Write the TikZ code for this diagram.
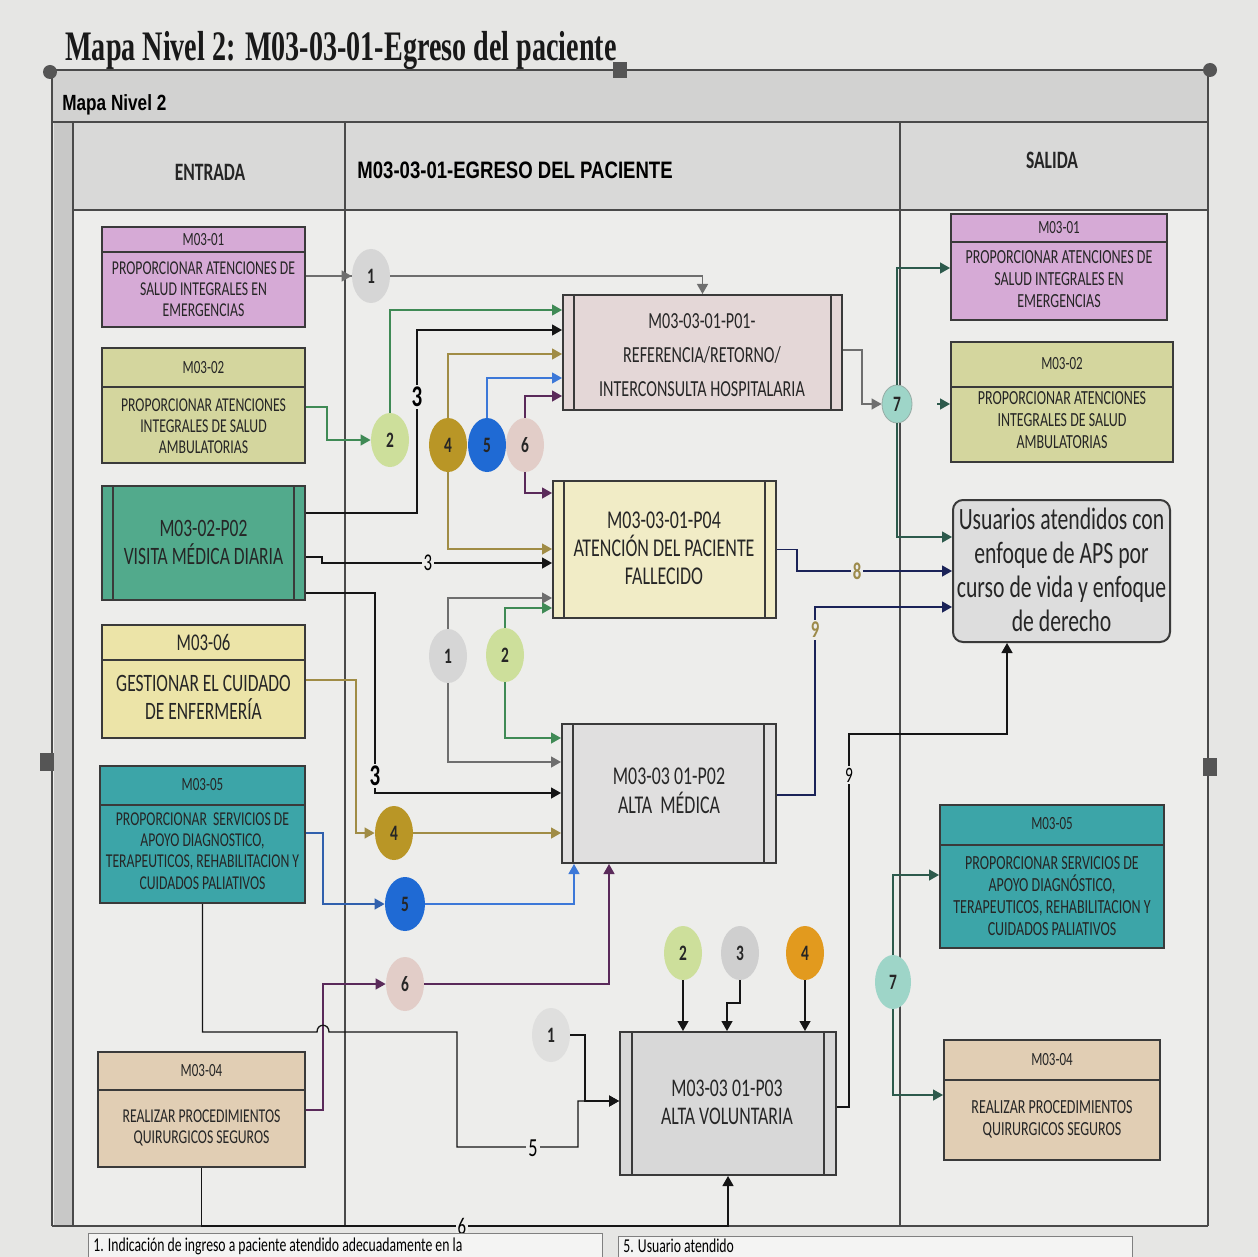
\documentclass[tikz,border=0pt]{standalone}
\usepackage{fontspec}
\usetikzlibrary{arrows.meta,calc,shapes.geometric}

\newfontfamily\bxfont[FakeStretch=0.7]{Carlito}
\newfontfamily\hdfont[FakeStretch=0.78]{Liberation Sans}
\newfontfamily\ttlfont[FakeStretch=0.67]{Liberation Serif}

% surfaces
\definecolor{paper}{HTML}{E6E6E4}
\definecolor{cell}{HTML}{EDEDEB}
\definecolor{band}{HTML}{D2D2D1}
\definecolor{hband}{HTML}{D9D9D8}
\definecolor{strip}{HTML}{C8C8C7}
\definecolor{frameln}{HTML}{4A4A4A}
\definecolor{boxln}{HTML}{3A3A3A}
\definecolor{handle}{HTML}{555555}
% boxes
\definecolor{cPink}{HTML}{D6AAD6}
\definecolor{cOlive}{HTML}{D4D69E}
\definecolor{cTeal}{HTML}{52AA8C}
\definecolor{cCream}{HTML}{ECE4A8}
\definecolor{cCyan}{HTML}{3CA5A8}
\definecolor{cTan}{HTML}{E1CEB4}
\definecolor{pRose}{HTML}{E4D7D7}
\definecolor{pYel}{HTML}{F1ECC6}
\definecolor{pGray}{HTML}{E0DFDF}
\definecolor{pGrayB}{HTML}{D8D8D8}
\definecolor{uGray}{HTML}{DDDDDD}
% bubbles
\definecolor{k1}{HTML}{D6D6D6}
\definecolor{k2}{HTML}{CDDF9B}
\definecolor{k3}{HTML}{CFCFCF}
\definecolor{k4}{HTML}{B99626}
\definecolor{k4b}{HTML}{E29A1E}
\definecolor{k5}{HTML}{1F6AD4}
\definecolor{k6}{HTML}{E2CDC8}
\definecolor{k7}{HTML}{9ED5C8}
% connectors
\definecolor{aGray}{HTML}{6E6E6E}
\definecolor{aGreen}{HTML}{3F8A55}
\definecolor{aBlack}{HTML}{151515}
\definecolor{aGold}{HTML}{A08C45}
\definecolor{aBlue}{HTML}{3C78D8}
\definecolor{aPurp}{HTML}{5A2A5A}
\definecolor{aNavy}{HTML}{1B2358}
\definecolor{aDkGreen}{HTML}{2D5A4C}
\definecolor{lblGold}{HTML}{9C8A4A}

\tikzset{
  box/.style={draw=boxln, line width=1pt, inner sep=0pt},
  split/.style={draw=boxln, line width=0.8pt},
  hdtxt/.style={font=\bxfont\fontsize{9.3}{10}\selectfont, text=black!85, inner sep=0pt, align=center},
  bdtxt/.style={font=\bxfont\fontsize{9.8}{10.6}\selectfont, text=black!85, inner sep=0pt, align=center},
  prtxt/.style={font=\bxfont\fontsize{12.6}{14}\selectfont, text=black!85, inner sep=0pt, align=center},
  bubble/.style={ellipse, minimum width=19pt, minimum height=27pt, inner sep=0pt,
    font=\bxfont\bfseries\fontsize{11}{12}\selectfont, text=black!85},
  link/.style={line width=0.65pt, -{Triangle[length=5pt,width=5.5pt]}},
  plain/.style={line width=0.65pt},
  tag/.style={fill=cell, inner sep=1pt, font=\bxfont\fontsize{12}{12}\selectfont},
  grid/.style={draw=frameln, line width=0.9pt},
  note/.style={draw=gray, fill=cell!60!white, line width=0.7pt, anchor=north west, minimum width=257pt, minimum height=20pt},
}

\begin{document}
\begin{tikzpicture}[x=0.5pt,y=-0.5pt]
\useasboundingbox (0,0) rectangle (1258,1257);
\clip (0,0) rectangle (1258,1257);

% ---------- page and table frame ----------
\fill[paper] (0,0) rectangle (1258,1257);
\fill[cell] (52,210) rectangle (1208,1226);
\fill[band] (52,70) rectangle (1208,122);
\fill[hband] (73,122) rectangle (1208,210);
\fill[strip] (54,122) rectangle (73,1226);

\node[anchor=base west, inner sep=0pt, font=\ttlfont\bfseries\fontsize{21}{24}\selectfont, text=black!90]
  (title) at (65,61) {Mapa Nivel 2: M03-03-01-Egreso del paciente};

\draw[grid] (52,70) -- (1208,70);
\draw[grid] (52,122) -- (1208,122);
\draw[grid] (73,210) -- (1208,210);
\draw[grid] (52,70) -- (52,1226);
\draw[grid] (1208,70) -- (1208,1226);
\draw[grid] (73,122) -- (73,1226);
\draw[grid] (345,122) -- (345,1226);
\draw[grid] (900,122) -- (900,1226);
\draw[grid] (52,1226) -- (1208,1226);

\node[anchor=base west, inner sep=0pt, font=\hdfont\bfseries\fontsize{11}{12}\selectfont]
  (mapa) at (62,111) {Mapa Nivel 2};
\node[inner sep=0pt, font=\bxfont\bfseries\fontsize{12.5}{13}\selectfont, text=black!85]
  (entrada) at (210,172) {ENTRADA};
\node[anchor=west, inner sep=0pt, font=\hdfont\bfseries\fontsize{11.9}{13}\selectfont]
  (proceso) at (357,170) {M03-03-01-EGRESO DEL PACIENTE};
\node[inner sep=0pt, font=\bxfont\bfseries\fontsize{12.5}{13}\selectfont, text=black!85]
  (salida) at (1052,160) {SALIDA};

% selection handles
\fill[handle] (50,72) circle[radius=7];
\fill[handle] (1210,70) circle[radius=7];
\fill[handle] (613,62) rectangle (627,78);
\fill[handle] (40,753) rectangle (54,771);
\fill[handle] (1203,758) rectangle (1217,776);

% ---------- inputs (ENTRADA) ----------
\node[box, fill=cPink, minimum width=101.5pt, minimum height=50pt] (L1) at (203.5,277) {};
\draw[split] (L1.west |- 0,252) -- (L1.east |- 0,252);
\node[hdtxt] (L1h) at (203.5,240) {M03-01};
\node[bdtxt] (L1b) at (203.5,289) {PROPORCIONAR ATENCIONES DE\\SALUD INTEGRALES EN\\EMERGENCIAS};

\node[box, fill=cOlive, minimum width=101.5pt, minimum height=57.5pt] (L2) at (203.5,405.5) {};
\draw[split] (L2.west |- 0,387) -- (L2.east |- 0,387);
\node[hdtxt] (L2h) at (203.5,368) {M03-02};
\node[bdtxt] (L2b) at (203.5,426) {PROPORCIONAR ATENCIONES\\INTEGRALES DE SALUD\\AMBULATORIAS};

\node[box, fill=cTeal, minimum width=101.5pt, minimum height=57pt] (L3) at (203.5,543) {};
\draw[split] (L3.north -| 113,0) -- (L3.south -| 113,0);
\draw[split] (L3.north -| 294,0) -- (L3.south -| 294,0);
\node[prtxt, font=\bxfont\fontsize{12.5}{14}\selectfont] (L3t) at (203.5,542) {M03-02-P02\\VISITA MÉDICA DIARIA};

\node[box, fill=cCream, minimum width=101.5pt, minimum height=56.5pt] (L4) at (203.5,681.5) {};
\draw[split] (L4.west |- 0,660) -- (L4.east |- 0,660);
\node[hdtxt, font=\bxfont\fontsize{12}{13}\selectfont] (L4h) at (203.5,642) {M03-06};
\node[prtxt, font=\bxfont\fontsize{12.5}{14}\selectfont] (L4b) at (203.5,697) {GESTIONAR EL CUIDADO\\DE ENFERMERÍA};

\node[box, fill=cCyan, minimum width=102.5pt, minimum height=68.5pt] (L5) at (202.5,834.5) {};
\draw[split] (L5.west |- 0,805) -- (L5.east |- 0,805);
\node[hdtxt] (L5h) at (202.5,785) {M03-05};
\node[bdtxt] (L5b) at (202.5,851) {PROPORCIONAR\ \ SERVICIOS DE\\APOYO DIAGNOSTICO,\\TERAPEUTICOS, REHABILITACION Y\\CUIDADOS PALIATIVOS};

\node[box, fill=cTan, minimum width=103.5pt, minimum height=57.5pt] (L6) at (201.5,1109.5) {};
\draw[split] (L6.west |- 0,1090) -- (L6.east |- 0,1090);
\node[hdtxt] (L6h) at (201.5,1071) {M03-04};
\node[bdtxt] (L6b) at (201.5,1128) {REALIZAR PROCEDIMIENTOS\\QUIRURGICOS SEGUROS};

% ---------- processes ----------
\node[box, fill=pRose, minimum width=139.5pt, minimum height=57.5pt] (P01) at (702.5,352.5) {};
\draw[split] (P01.north -| 574,0) -- (P01.south -| 574,0);
\draw[split] (P01.north -| 831,0) -- (P01.south -| 831,0);
\node[prtxt, font=\bxfont\fontsize{11.5}{17}\selectfont] (P01t) at (702,355) {M03-03-01-P01-\\REFERENCIA/RETORNO/\\INTERCONSULTA HOSPITALARIA};

\node[box, fill=pYel, minimum width=111.5pt, minimum height=68.5pt] (P04) at (664.5,549.5) {};
\draw[split] (P04.north -| 564,0) -- (P04.south -| 564,0);
\draw[split] (P04.north -| 765,0) -- (P04.south -| 765,0);
\node[prtxt, font=\bxfont\fontsize{12.8}{14}\selectfont] (P04t) at (664,548) {M03-03-01-P04\\ATENCIÓN DEL PACIENTE\\FALLECIDO};

\node[box, fill=pGray, minimum width=107pt, minimum height=69.5pt] (P02) at (669,793.5) {};
\draw[split] (P02.north -| 573,0) -- (P02.south -| 573,0);
\draw[split] (P02.north -| 764,0) -- (P02.south -| 764,0);
\node[prtxt, font=\bxfont\fontsize{12.8}{14.5}\selectfont] (P02t) at (669,791) {M03-03 01-P02\\ALTA\ \ MÉDICA};

\node[box, fill=pGrayB, minimum width=108pt, minimum height=71.5pt] (P03) at (728,1103.5) {};
\draw[split] (P03.north -| 632,0) -- (P03.south -| 632,0);
\draw[split] (P03.north -| 824,0) -- (P03.south -| 824,0);
\node[prtxt, font=\bxfont\fontsize{12.7}{14}\selectfont] (P03t) at (727,1102) {M03-03 01-P03\\ALTA VOLUNTARIA};

% ---------- outputs (SALIDA) ----------
\node[box, fill=cPink, minimum width=108pt, minimum height=53pt] (R1) at (1059,267) {};
\draw[split] (R1.west |- 0,242) -- (R1.east |- 0,242);
\node[hdtxt] (R1h) at (1059,228) {M03-01};
\node[bdtxt, font=\bxfont\fontsize{10}{10.8}\selectfont] (R1b) at (1059,279) {PROPORCIONAR ATENCIONES DE\\SALUD INTEGRALES EN\\EMERGENCIAS};

\node[box, fill=cOlive, minimum width=111pt, minimum height=60pt] (R2) at (1062,402) {};
\draw[split] (R2.west |- 0,387) -- (R2.east |- 0,387);
\node[hdtxt] (R2h) at (1062,364) {M03-02};
\node[bdtxt, font=\bxfont\fontsize{10}{10.8}\selectfont] (R2b) at (1062,420) {PROPORCIONAR ATENCIONES\\INTEGRALES DE SALUD\\AMBULATORIAS};

\node[box, fill=uGray, rounded corners=5pt, minimum width=108.5pt, minimum height=71pt] (R3) at (1061.5,571) {};
\node[inner sep=0pt, align=center, font=\bxfont\fontsize{15.5}{17}\selectfont, text=black!85] (R3t) at (1061.5,570)
  {Usuarios atendidos con\\enfoque de APS por\\curso de vida y enfoque\\de derecho};

\node[box, fill=cCyan, minimum width=112pt, minimum height=71.5pt] (R4) at (1052,876.5) {};
\draw[split] (R4.west |- 0,845) -- (R4.east |- 0,845);
\node[hdtxt] (R4h) at (1052,824) {M03-05};
\node[bdtxt, font=\bxfont\fontsize{10}{10.9}\selectfont] (R4b) at (1052,896) {PROPORCIONAR SERVICIOS DE\\APOYO DIAGNÓSTICO,\\TERAPEUTICOS, REHABILITACION Y\\CUIDADOS PALIATIVOS};

\node[box, fill=cTan, minimum width=108pt, minimum height=60pt] (R5) at (1052,1100) {};
\draw[split] (R5.west |- 0,1080) -- (R5.east |- 0,1080);
\node[hdtxt] (R5h) at (1052,1060) {M03-04};
\node[bdtxt, font=\bxfont\fontsize{10}{11}\selectfont] (R5b) at (1052,1119) {REALIZAR PROCEDIMIENTOS\\QUIRURGICOS SEGUROS};

% ---------- numbered bubbles ----------
\node[bubble, fill=k1] (c1a) at (371,276) {1};
\node[bubble, fill=k2] (c2a) at (390,440) {2};
\node[bubble, fill=k4] (c4a) at (448,445) {4};
\node[bubble, fill=k5] (c5a) at (487,445) {5};
\node[bubble, fill=k6] (c6a) at (525,445) {6};
\node[bubble, fill=k7, draw=aDkGreen!50, minimum width=15pt, minimum height=19pt] (c7a) at (897,404) {7};
\node[bubble, fill=k1] (c1b) at (448,656) {1};
\node[bubble, fill=k2] (c2b) at (505,655) {2};
\node[bubble, fill=k4] (c4b) at (394,833) {4};
\node[bubble, fill=k5, minimum width=20pt] (c5b) at (405,904) {5};
\node[bubble, fill=k6] (c6b) at (405,984) {6};
\node[bubble, fill=k1!60!cell] (c1c) at (551,1035) {1};
\node[bubble, fill=k2] (c2c) at (683,953) {2};
\node[bubble, fill=k3] (c3c) at (740,953) {3};
\node[bubble, fill=k4b] (c4c) at (805,953) {4};
\node[bubble, fill=k7, minimum width=18pt] (c7b) at (893,982) {7};

% ---------- connectors into M03-03-01-P01 ----------
\draw[plain, draw=aGray] (L1.east |- c1a.west) -- (c1a.west);
\draw[link, draw=aGray] ([xshift=-6pt]c1a.west) -- (c1a.west);
\draw[link, draw=aGray] (c1a.east) -| (P01.north);
\draw[link, draw=aGreen] (L2.east |- 0,407) -| (327,440) -- (c2a.west);
\draw[link, draw=aGreen] (c2a.north) |- (P01.west |- 0,310);
\draw[link, draw=aBlack] (L3.east |- 0,513) -| (417,330) -- (P01.west |- 0,330);
\draw[link, draw=aGold] (c4a.north) |- (P01.west |- 0,354);
\draw[link, draw=aBlue] (c5a.north) |- (P01.west |- 0,378);
\draw[link, draw=aPurp] (c6a.north) |- (P01.west |- 0,396);

% ---------- connectors into M03-03-01-P04 ----------
\draw[link, draw=aPurp] (c6a.south) |- (P04.west |- 0,493);
\draw[link, draw=aGold] (c4a.south) |- (P04.west |- 0,549);
\draw[link, draw=aBlack] (L3.east |- 0,557) -- (322,557) -- (322,563) -- (P04.west |- 0,563);
\draw[link, draw=aGray] (c1b.north) |- (P04.west |- 0,598);
\draw[link, draw=aGreen] (c2b.north) |- (P04.west |- 0,608);

% ---------- connectors into M03-03 01-P02 ----------
\draw[link, draw=aGreen] (c2b.south) |- (P02.west |- 0,738);
\draw[link, draw=aGray] (c1b.south) |- (P02.west |- 0,762);
\draw[link, draw=aBlack] (L3.east |- 0,593) -| (375,793) -- (P02.west |- 0,793);
\draw[link, draw=aGold] (L4.east |- 0,680) -| (356,833) -- (c4b.west);
\draw[link, draw=aGold] (c4b.east) -- (P02.west |- c4b.east);
\draw[link, draw=aBlue!80!black] (L5.east |- 0,833) -| (323,904) -- (c5b.west);
\draw[link, draw=aBlue] (c5b.east) -| (P02.south -| 574,0);
\draw[link, draw=aPurp] (L6.east |- 0,1110) -| (323,984) -- (c6b.west);
\draw[link, draw=aPurp] (c6b.east) -| (P02.south -| 609,0);

% ---------- connectors into M03-03 01-P03 ----------
\draw[link, draw=aBlack] (L5.south) -- (L5.south |- 0,1032) -- (317,1032)
  .. controls (317,1023) and (329,1023) .. (329,1032) -- (457,1032) -- (457,1147)
  -- (578,1147) -- (578,1101) -- (P03.west |- 0,1101);
\draw[link, draw=aBlack] (c1c.east) -| (585,1101) -- (P03.west |- 0,1101);
\draw[link, draw=aBlack] (L6.south) |- (P03.south |- 0,1226) -- (P03.south);
\draw[link, draw=aBlack] (c2c.south) -- (c2c.south |- P03.north);
\draw[link, draw=aBlack] (c3c.south) |- (727,1003) -- (P03.north -| 727,0);
\draw[link, draw=aBlack] (c4c.south) -- (c4c.south |- P03.north);

% ---------- connectors to outputs ----------
\draw[link, draw=aGray] (P01.east |- 0,350) -| (862,404) -- (c7a.west);
\draw[link, draw=aDkGreen] (c7a.north) |- (R1.west |- 0,268);
\coordinate (r2lead) at (937,404);
\draw[link, draw=aDkGreen] (r2lead) -- (R2.west |- r2lead);
\draw[link, draw=aDkGreen] (c7a.south) |- (R3.west |- 0,537);
\draw[link, draw=aNavy] (P04.east) -| (797,571) -- (R3.west |- 0,571);
\draw[link, draw=aNavy] (P02.east |- 0,795) -| (815,607) -- (R3.west |- 0,607);
\draw[link, draw=aBlack] (P03.east |- 0,1107) -| (849,734) -| (R3.south -| 1007,0);
\draw[link, draw=aDkGreen] (c7b.north) |- (R4.west |- 0,875);
\draw[link, draw=aDkGreen] (c7b.south) |- (R5.west |- 0,1095);

% ---------- labels on connectors ----------
\node[tag, font=\bxfont\bfseries\fontsize{15}{15}\selectfont] (t3a) at (417,397) {3};
\node[tag] (t3b) at (428,563) {3};
\node[tag, font=\bxfont\bfseries\fontsize{15}{15}\selectfont] (t3c) at (375,776) {3};
\node[tag, text=lblGold, font=\bxfont\bfseries\fontsize{12}{12}\selectfont] (t8) at (857,571) {8};
\node[tag, text=lblGold, font=\bxfont\bfseries\fontsize{12}{12}\selectfont] (t9a) at (815,630) {9};
\node[tag, font=\bxfont\fontsize{11}{11}\selectfont] (t9b) at (849,775) {9};
\node[tag, font=\bxfont\fontsize{13}{13}\selectfont] (t5) at (533,1148) {5};
\node[tag, font=\bxfont\fontsize{12}{12}\selectfont] (t6) at (462,1226) {6};

% ---------- notes below the table ----------
\node[note] (note1) at (88,1233) {};
\node[anchor=base west, inner sep=0pt, font=\bxfont\fontsize{9.8}{11}\selectfont] (note1t) at (93,1251)
  {1. Indicación de ingreso a paciente atendido adecuadamente en la};
\node[note] (note2) at (618,1236) {};
\node[anchor=base west, inner sep=0pt, font=\bxfont\fontsize{9.8}{11}\selectfont] (note2t) at (623,1252)
  {5. Usuario atendido};
\end{tikzpicture}
\end{document}
